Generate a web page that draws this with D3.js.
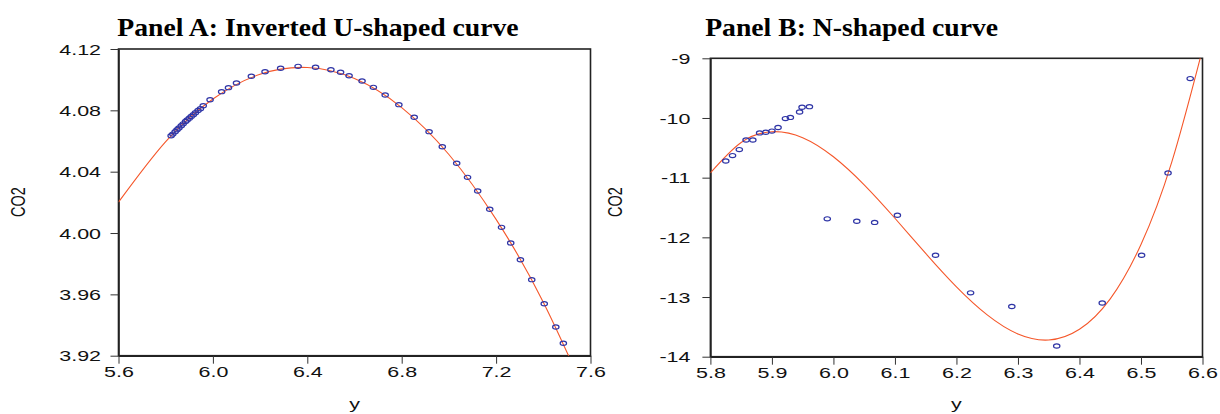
<!DOCTYPE html>
<html>
<head>
<meta charset="utf-8">
<script src="https://cdn.jsdelivr.net/npm/d3@7"></script>
<style>
  body { margin: 0; background: #fff; }
  svg { display: block; }
  .tick text { font-family: "Liberation Sans", Arial, sans-serif; font-size: 14.5px; fill: #111; }
  .title { font-family: "Liberation Serif", "Times New Roman", serif; font-weight: bold; font-size: 26px; fill: #000; }
  .lab { font-family: "Liberation Sans", Arial, sans-serif; font-size: 14.5px; fill: #111; }
</style>
</head>
<body>
<div id="viz"></div>
<script>
const width = 1220;
const height = 414;

// Panel A: observed points
const aPointsX = [5.823, 5.830, 5.840, 5.848, 5.856, 5.866, 5.874, 5.884, 5.891, 5.900, 5.908, 5.917, 5.926, 5.937, 5.947, 5.959,
    5.988, 6.037, 6.066, 6.100, 6.163, 6.221, 6.287, 6.361, 6.435, 6.500, 6.541, 6.577, 6.632, 6.680, 6.730, 6.788,
    6.853, 6.916, 6.972, 7.033, 7.079, 7.122, 7.173, 7.223, 7.262, 7.303, 7.351, 7.404, 7.453, 7.485];
const aPointsY = [4.0634, 4.0645, 4.0661, 4.0673, 4.0685, 4.0700, 4.0712, 4.0727, 4.0737, 4.0749, 4.0760, 4.0772, 4.0784, 4.0799, 4.0811, 4.0830,
    4.0869, 4.0922, 4.0948, 4.0978, 4.1022, 4.1052, 4.1074, 4.1087, 4.1081, 4.1065, 4.1048, 4.1026, 4.0991, 4.0950, 4.0900, 4.0837,
    4.0755, 4.0661, 4.0563, 4.0455, 4.0363, 4.0274, 4.0155, 4.0037, 3.9935, 3.9826, 3.9696, 3.9539, 3.9387, 3.9281];
// Panel A: fitted curve
const aFitX = [5.6, 5.8, 6.0, 6.2, 6.4, 6.6, 6.8, 7.0, 7.2, 7.4, 7.6];
const aFitY = [4.0201, 4.0596, 4.0874, 4.1035, 4.1079, 4.1007, 4.0818, 4.0512, 4.0089, 3.9549, 3.8880];
const aXTicks = [5.6, 6.0, 6.4, 6.8, 7.2, 7.6];
const aYTicks = [3.92, 3.96, 4.00, 4.04, 4.08, 4.12];

// Panel B: observed points
const bPointsX = [5.825, 5.836, 5.847, 5.858, 5.869, 5.880, 5.890, 5.900, 5.910, 5.922, 5.930, 5.945, 5.949, 5.961,
    5.990, 6.038, 6.067, 6.104, 6.166, 6.223, 6.290, 6.363, 6.437, 6.501, 6.544, 6.580];
const bPointsY = [-10.72, -10.63, -10.53, -10.37, -10.37, -10.25, -10.24, -10.22, -10.16, -10.01, -9.99, -9.90, -9.82, -9.81,
    -11.69, -11.73, -11.75, -11.63, -12.30, -12.93, -13.16, -13.82, -13.10, -12.30, -10.92, -9.34];
// Panel B: fitted curve
const bFitX = [5.80, 5.85, 5.90, 5.95, 6.00, 6.05, 6.10, 6.15, 6.20, 6.25, 6.30, 6.35, 6.40, 6.45, 6.50, 6.55, 6.60];
const bFitY = [-10.92, -10.41, -10.23, -10.33, -10.65, -11.12, -11.68, -12.27, -12.83, -13.30, -13.62, -13.72, -13.54, -13.03, -12.12, -10.74, -8.85];
const bXTicks = [5.8, 5.9, 6.0, 6.1, 6.2, 6.3, 6.4, 6.5, 6.6];
const bYTicks = [-14, -13, -12, -11, -10, -9];

const svg = d3.select('#viz')
    .append("svg")
    .attr('width', width)
    .attr('height', height);

svg.append("rect").attr("width", width).attr("height", height).attr("fill", "#fff");

const stretch = 1.48;

function drawPanel(cfg) {
    const xScale = d3.scaleLinear().domain(cfg.xDomain).range([cfg.left, cfg.right]);
    const yScale = d3.scaleLinear().domain(cfg.yDomain).range([cfg.bottom, cfg.top]);

    const g = svg.append("g");

    // clip for the fitted line
    g.append("clipPath").attr("id", cfg.id + "clip")
        .append("rect")
        .attr("x", cfg.left).attr("y", cfg.top)
        .attr("width", cfg.right - cfg.left).attr("height", cfg.bottom - cfg.top);

    // frame
    g.append("rect")
        .attr("x", cfg.left).attr("y", cfg.top)
        .attr("width", cfg.right - cfg.left).attr("height", cfg.bottom - cfg.top)
        .attr("fill", "none").attr("stroke", "#222").attr("stroke-width", 1.6);

    const xAxis = g.append("g")
        .attr("transform", `translate(0, ${cfg.bottom})`)
        .call(d3.axisBottom(xScale).tickValues(cfg.xTicks).tickFormat(d3.format(".1f")).tickSize(8).tickSizeOuter(0));
    xAxis.select(".domain").attr("stroke", "#222").attr("stroke-width", 1.6);
    xAxis.selectAll(".tick line").attr("stroke", "#333");
    xAxis.selectAll(".tick text")
        .attr("y", 21).attr("dy", 0)
        .attr("transform", `scale(${stretch},1)`);

    const yAxis = g.append("g")
        .attr("transform", `translate(${cfg.left}, 0)`)
        .call(d3.axisLeft(yScale).tickValues(cfg.yTicks).tickFormat(cfg.yFormat).tickSize(8).tickSizeOuter(0));
    yAxis.select(".domain").attr("stroke", "#222").attr("stroke-width", 1.6);
    yAxis.selectAll(".tick line").attr("stroke", "#333");
    yAxis.selectAll(".tick text")
        .attr("x", -cfg.labelGap / stretch).attr("dy", "0.36em")
        .attr("transform", `scale(${stretch},1)`);

    // fitted curve
    const fit = cfg.fitX.map((x, i) => ({ x, y: cfg.fitY[i] }));
    g.append("path")
        .datum(fit)
        .attr("clip-path", `url(#${cfg.id}clip)`)
        .attr("fill", "none")
        .attr("stroke", "#f5572a")
        .attr("stroke-width", 1.1)
        .attr("d", d3.line().x(d => xScale(d.x)).y(d => yScale(d.y)).curve(d3.curveNatural));

    // points
    const pts = cfg.px.map((x, i) => ({ x, y: cfg.py[i] }));
    g.selectAll("ellipse.pt")
        .data(pts)
        .enter()
        .append("ellipse")
        .attr("class", "pt")
        .attr("cx", d => xScale(d.x))
        .attr("cy", d => yScale(d.y))
        .attr("rx", 3.2)
        .attr("ry", 2.1)
        .attr("fill", "none")
        .attr("stroke", "#2f35a6")
        .attr("stroke-width", 1.2);

    // titles and labels
    g.append("text").attr("class", "title")
        .attr("text-anchor", "middle")
        .attr("transform", `translate(${cfg.titleX}, 36) scale(1.065,1)`)
        .text(cfg.title);

    g.append("text").attr("class", "lab")
        .attr("text-anchor", "middle")
        .attr("transform", `translate(${(cfg.left + cfg.right) / 2}, 409) scale(${stretch},1)`)
        .text("y");

    g.append("text").attr("class", "lab")
        .attr("text-anchor", "middle")
        .attr("transform", `translate(${cfg.yLabX}, 202) scale(1.4,1) rotate(-90)`)
        .attr("dy", "0.36em")
        .text("CO2");
}

drawPanel({
    id: "a", left: 118.5, right: 590.5, top: 49, bottom: 355.7,
    xDomain: [5.6, 7.6], yDomain: [3.92, 4.12],
    xTicks: aXTicks, yTicks: aYTicks, yFormat: d3.format(".2f"),
    fitX: aFitX, fitY: aFitY, px: aPointsX, py: aPointsY,
    title: "Panel A: Inverted U-shaped curve", titleX: 318,
    labelGap: 17.5, yLabX: 18
});

drawPanel({
    id: "b", left: 710.4, right: 1202.5, top: 58.3, bottom: 356.7,
    xDomain: [5.8, 6.6], yDomain: [-14, -9],
    xTicks: bXTicks, yTicks: bYTicks, yFormat: d => String(d),
    fitX: bFitX, fitY: bFitY, px: bPointsX, py: bPointsY,
    title: "Panel B: N-shaped curve", titleX: 851.6,
    labelGap: 20, yLabX: 615
});
</script>
</body>
</html>
